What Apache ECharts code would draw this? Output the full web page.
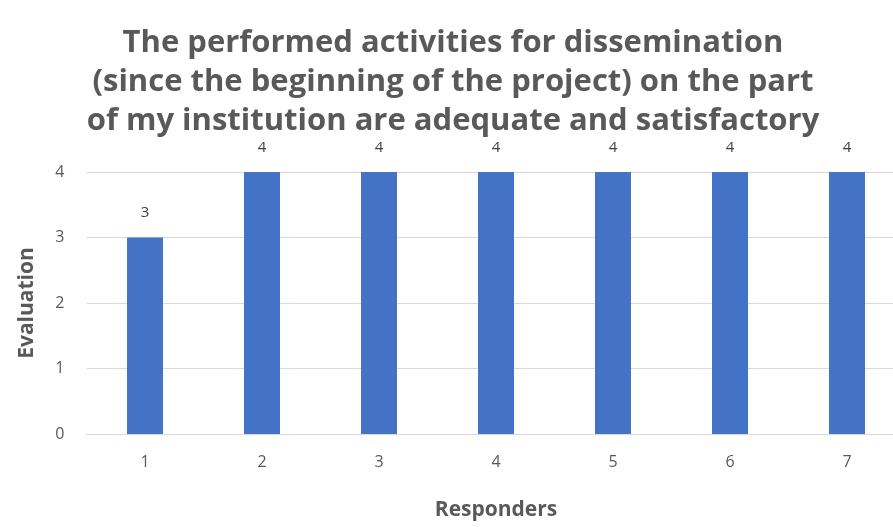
<!DOCTYPE html>
<html><head><meta charset="utf-8">
<script src="https://cdn.jsdelivr.net/npm/echarts@6/dist/echarts.min.js"></script>
<style>html,body{margin:0;padding:0;background:#fff;overflow:hidden;width:893px;height:527px}#c{width:906px;height:527px}</style>
</head><body><div id="c"></div>
<script>
const titleLines = ["The performed activities for dissemination", "(since the beginning of the project) on the part", "of my institution are adequate and satisfactory"];
const categories = ["1", "2", "3", "4", "5", "6", "7"];
const evaluations = [3, 4, 4, 4, 4, 4, 4];
const yTicks = [0, 1, 2, 3, 4];
const xName = "Responders";
const yName = "Evaluation";

const chart = echarts.init(document.getElementById('c'), null, {renderer: 'canvas'});
chart.setOption({
  animation: false,
  backgroundColor: '#ffffff',
  title: {
    text: titleLines.join('\n'),
    left: 'center', top: 19,
    textStyle: {fontFamily: '"Open Sans", sans-serif', fontWeight: 'bold', fontSize: 31, lineHeight: 39, color: '#595959'}
  },
  grid: {left: 86.5, right: 0.5, top: 172, bottom: 93, containLabel: false},
  xAxis: {
    type: 'category', data: categories,
    name: xName, nameLocation: 'middle', nameGap: 66,
    nameTextStyle: {fontFamily: '"Open Sans", sans-serif', fontWeight: 'bold', fontSize: 21, color: '#595959'},
    axisLine: {show: true, lineStyle: {color: '#d9d9d9'}},
    axisTick: {show: false},
    axisLabel: {fontFamily: '"Open Sans", sans-serif', fontSize: 16, color: '#595959', margin: 20}
  },
  yAxis: {
    type: 'value', min: yTicks[0], max: yTicks[yTicks.length - 1], interval: 1,
    name: yName, nameLocation: 'middle', nameGap: 49, nameRotate: 90,
    nameTextStyle: {fontFamily: '"Open Sans", sans-serif', fontWeight: 'bold', fontSize: 21, color: '#595959'},
    axisLine: {show: false}, axisTick: {show: false},
    splitLine: {lineStyle: {color: '#d9d9d9'}},
    axisLabel: {fontFamily: '"Open Sans", sans-serif', fontSize: 16, color: '#595959', margin: 22}
  },
  series: [{
    type: 'bar', data: evaluations, barWidth: 36,
    itemStyle: {color: '#4472C4'},
    label: {show: true, position: 'top', distance: 17, fontFamily: '"Open Sans", sans-serif', fontSize: 15, color: '#404040'}
  }]
});
</script></body></html>
